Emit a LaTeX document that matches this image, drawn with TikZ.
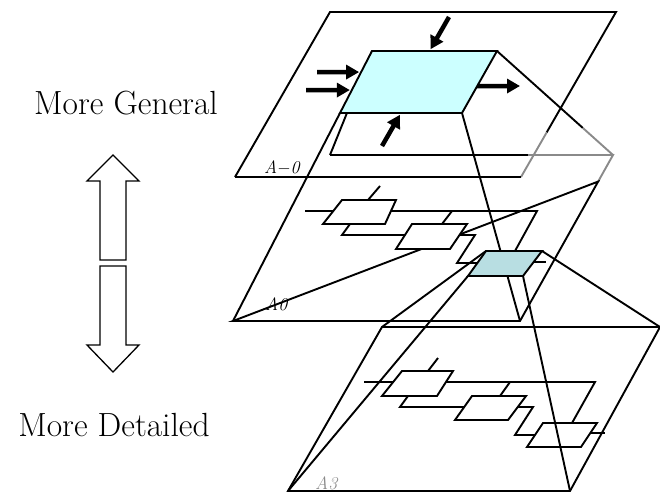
\documentclass[tikz,border=0pt]{standalone}
\usepackage{tikz}
\usetikzlibrary{arrows.meta,calc}
\definecolor{topbox}{HTML}{CCFFFF}
\definecolor{subbox}{HTML}{B8DEE2}
\definecolor{hid}{HTML}{8A8A8A}
\tikzset{
  plane/.style={draw=black,line width=1.9pt},
  hidln/.style={draw=hid,line width=1.9pt},
  pyr/.style={draw=black,line width=1.9pt},
  wire/.style={draw=black,line width=1.9pt},
  blk/.style={draw=black,line width=1.9pt,fill=white},
  flow/.style={-{Triangle[length=13pt,width=14pt]},line width=4.5pt,shorten >=2pt},
  fat/.style={draw=black,line width=1.3pt,fill=white,line join=miter},
  lab/.style={font=\fontsize{18}{20}\selectfont\itshape,anchor=base west,inner sep=0pt},
  side/.style={font=\fontsize{33.5}{40}\selectfont,inner sep=0pt},
}
\begin{document}
\begin{tikzpicture}[x=1pt,y=-1pt]
\useasboundingbox (0,0) rectangle (660,493);
% corners
\coordinate (p0a) at (330,12);  \coordinate (p0b) at (616,12);
\coordinate (p0c) at (521,177); \coordinate (p0d) at (235,177);
\coordinate (c1) at (372,51);   \coordinate (c2) at (497,51);
\coordinate (c3) at (462,113);  \coordinate (c4) at (340,113);
\coordinate (p1a) at (330,155); \coordinate (p1b) at (613,155);
\coordinate (p1c) at (520,321); \coordinate (p1d) at (233,321);
\coordinate (t1) at (486,251);  \coordinate (t2) at (542,251);
\coordinate (t3) at (523,276);  \coordinate (t4) at (468,276);
\coordinate (p3a) at (382,327); \coordinate (p3b) at (660,327);
\coordinate (p3c) at (570,491); \coordinate (p3d) at (288,491);

% level A3
\draw[plane] (p3a) -- (p3b) -- (p3c) -- (p3d) -- cycle;
\draw[wire] (438,358) -- (428,371);
\draw[wire] (364,382) -- (595,382) -- (572,423);
\draw[wire] (510,382) -- (500,396);
\draw[wire] (408,396) -- (400,407) -- (465,407);
\draw[wire] (518,407) -- (533,407) -- (515,435) -- (537,435);
\draw[wire] (589,433) -- (605,433);
\draw[blk] (402,371) -- (453,371) -- (437,396) -- (382,396) -- cycle;
\draw[blk] (472,396) -- (526,396) -- (508,420) -- (455,420) -- cycle;
\draw[blk] (543,423) -- (597,423) -- (581,447) -- (527,447) -- cycle;
\node[lab,text=hid] (labA3) at (315,489) {A3};

% level A0
\draw[plane] (p1a) -- ($(p1a)!0.7!(p1b)$);
\draw[hidln] ($(p1a)!0.7!(p1b)$) -- (p1b) -- ($(p1b)!0.16!(p1c)$);
\draw[plane] ($(p1b)!0.16!(p1c)$) -- (p1c) -- (p1d) -- cycle;
\draw[wire] (380,186) -- (368,200);
\draw[wire] (305,211) -- (537,211) -- (515,251);
\draw[wire] (452,211) -- (442,224);
\draw[wire] (350,224) -- (342,235) -- (405,235);
\draw[wire] (459,235) -- (475,235) -- (457,263) -- (478,263);
\draw[wire] (534,262) -- (546,262);
\draw[blk] (342,200) -- (396,200) -- (385,224) -- (323,224) -- cycle;
\draw[blk] (412,224) -- (467,224) -- (450,249) -- (396,249) -- cycle;
\node[lab] (labA0) at (265,310) {A0};

% A0 -> A3
\draw[pyr] (t1) -- (p3a);
\draw[pyr] (t2) -- (p3b);
\draw[pyr] (t3) -- (p3c);
\draw[pyr] (t4) -- (p3d);

% A-0 -> A0
\draw[pyr] (c1) -- (p1a);
\draw[pyr] (c4) -- (p1d);
\draw[pyr] (c3) -- (p1c);
\draw[pyr] (c2) -- ($(c2)!0.74!(p1b)$);
\draw[hidln] ($(c2)!0.74!(p1b)$) -- (p1b);
\filldraw[plane,fill=subbox] (t1) -- (t2) -- (t3) -- (t4) -- cycle;

% level A-0
\draw[plane] (p0d) -- (p0a) -- (p0b) -- ($(p0b)!0.73!(p0c)$);
\draw[hidln] ($(p0b)!0.73!(p0c)$) -- (p0c);
\draw[plane] (p0c) -- (p0d);
\filldraw[plane,fill=topbox] (c1) -- (c2) -- (c3) -- (c4) -- cycle;
\node[lab] (labA) at (264,173) {A$-$0};

\coordinate (ctl) at (449,17);
\coordinate (in1) at (317,72);
\coordinate (in2) at (306,90);
\coordinate (mech) at (382,146);
\coordinate (outp) at (520,86);
\draw[flow] (ctl) -- ($(c1)!0.46!(c2)$);
\draw[flow] (in1) -- ($(c4)!0.66!(c1)$);
\draw[flow] (in2) -- ($(c4)!0.37!(c1)$);
\draw[flow] (mech) -- ($(c4)!0.5!(c3)$);
\draw[flow,shorten >=0pt] ($(c3)!0.435!(c2)$) -- (outp);

% left side
\node[side] (gen) at (126,103) {More General};
\node[side] (det) at (114,425) {More Detailed};
\draw[fat] (113,155) -- (139,181) -- (126,181) -- (126,260) -- (100,260) -- (100,181) -- (87,181) -- cycle;
\draw[fat] (100,266) -- (126,266) -- (126,345) -- (139,345) -- (113,372) -- (87,345) -- (100,345) -- cycle;
\end{tikzpicture}
\end{document}
